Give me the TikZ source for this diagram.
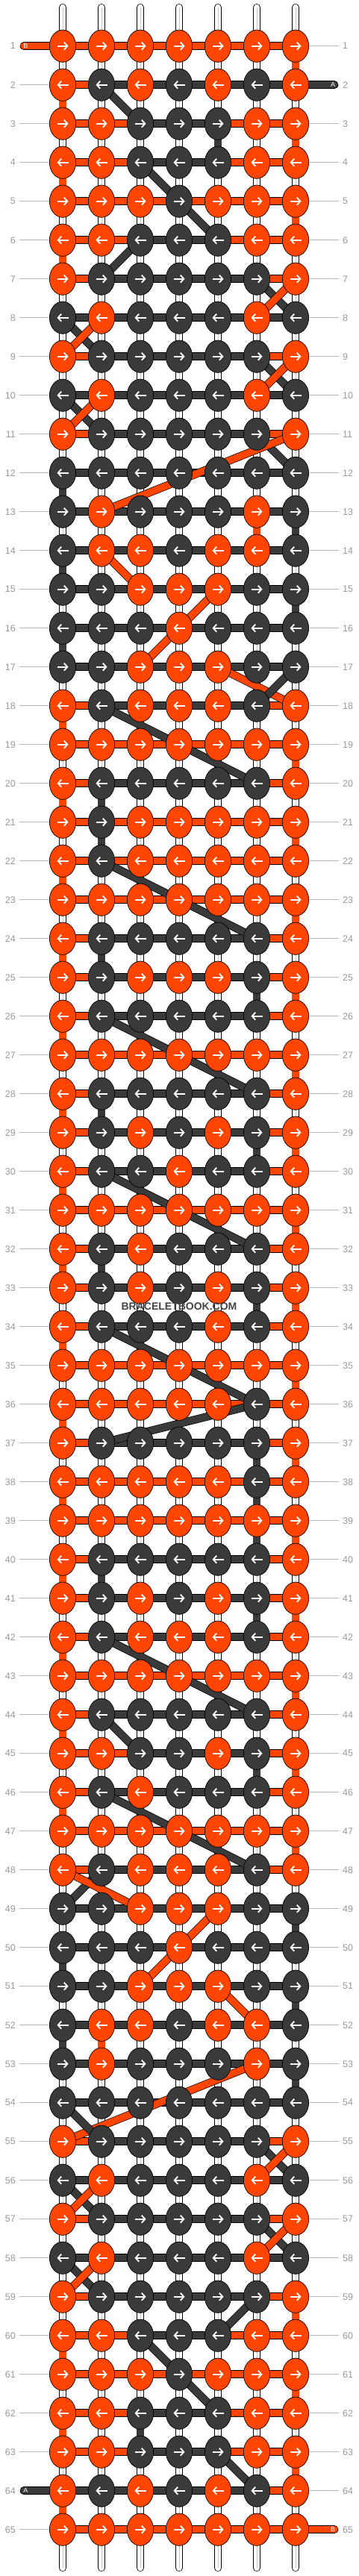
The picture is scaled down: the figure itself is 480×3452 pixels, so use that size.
\documentclass[tikz,border=0pt]{standalone}
\usepackage{fontspec}
\setmainfont{Liberation Sans}
\usetikzlibrary{shapes.geometric,arrows.meta}
\definecolor{co}{HTML}{FF4500}
\definecolor{cd}{HTML}{3A3A3A}
\definecolor{labgray}{HTML}{999999}
\definecolor{linegray}{HTML}{BBBBBB}
\definecolor{wmgray}{HTML}{444444}
\pgfdeclarelayer{bgfill}\pgfdeclarelayer{verts}\pgfdeclarelayer{bars}\pgfdeclarelayer{diags}\pgfdeclarelayer{toplayer}
\pgfsetlayers{bgfill,verts,bars,diags,main,toplayer}
\tikzset{
 knot/.style={ellipse, draw=black, line width=0.7, minimum width=35.3, minimum height=43.3, inner sep=0},
 arr/.style={draw=white, line width=1.8, -{Straight Barb[length=4.5pt,width=10pt]}},
 strand/.style={draw=black, line width=0.7, double=#1, double distance=9.3},
 wstrand/.style={draw=black, line width=0.7, double=white, double distance=8.6},
 wcore/.style={draw=black!22, line width=0.7},
 gline/.style={draw=linegray, line width=0.8},
 lab/.style={text=labgray, font=\fontsize{12.5}{14}\selectfont, inner sep=0},
 endlab/.style={text=white, font=\fontsize{9}{10}\selectfont, inner sep=0},
}
\newcommand\KnotAt[3]{%
 \node[knot, fill=c#3] (n#1-#2) at ({84+52*(#2-1)},{61.7+52*(#1-1)}) {};%
 \ifodd#1\relax
  \draw[arr] ([xshift=-7.5]n#1-#2.center) -- ([xshift=7.5]n#1-#2.center);%
 \else
  \draw[arr] ([xshift=7.5]n#1-#2.center) -- ([xshift=-7.5]n#1-#2.center);%
 \fi}
\def\KnotParse#1#2#3#4#5#6#7#8{\KnotAt{#1}{1}{#2}\KnotAt{#1}{2}{#3}\KnotAt{#1}{3}{#4}\KnotAt{#1}{4}{#5}\KnotAt{#1}{5}{#6}\KnotAt{#1}{6}{#7}\KnotAt{#1}{7}{#8}}
\newcommand\KnotRow[2]{\KnotParse{#1}#2}
\newcommand\BarSeg[4]{\draw[strand=c#4] (n#1-#2.center) -- (n#1-#3.center);}
\def\BarParse#1#2#3#4#5#6#7{\BarSeg{#1}{1}{2}{#2}\BarSeg{#1}{2}{3}{#3}\BarSeg{#1}{3}{4}{#4}\BarSeg{#1}{4}{5}{#5}\BarSeg{#1}{5}{6}{#6}\BarSeg{#1}{6}{7}{#7}}
\newcommand\BarRow[2]{\BarParse{#1}#2}
\newcommand\VertSeg[3]{\pgfmathtruncatemacro\nxr{#1+1}\draw[strand=c#3] (n#1-#2.center) -- (n\nxr-#2.center);}
\newcommand\DiagSeg[5]{\draw[strand=c#5] (n#1-#2.center) -- (n#3-#4.center);}
\begin{document}
\begin{tikzpicture}[x=1pt,y=-1pt]
\begin{pgfonlayer}{bgfill}
\fill[white] (0,0) rectangle (480,3452);
\end{pgfonlayer}
\useasboundingbox (0,0) rectangle (480,3452);
% knots
\KnotRow{1}{ooooooo}
\KnotRow{2}{odododo}
\KnotRow{3}{oodddoo}
\KnotRow{4}{oodddoo}
\KnotRow{5}{ooodooo}
\KnotRow{6}{oodddoo}
\KnotRow{7}{odddddo}
\KnotRow{8}{dodddod}
\KnotRow{9}{odddddo}
\KnotRow{10}{dodddod}
\KnotRow{11}{odddddo}
\KnotRow{12}{ddddddd}
\KnotRow{13}{dodddod}
\KnotRow{14}{doodood}
\KnotRow{15}{ddooodd}
\KnotRow{16}{dddoddd}
\KnotRow{17}{ddooodd}
\KnotRow{18}{odooodo}
\KnotRow{19}{ooooooo}
\KnotRow{20}{odddddo}
\KnotRow{21}{odooooo}
\KnotRow{22}{odooooo}
\KnotRow{23}{ooooooo}
\KnotRow{24}{odddddo}
\KnotRow{25}{odooodo}
\KnotRow{26}{odddddo}
\KnotRow{27}{ooooooo}
\KnotRow{28}{odddddo}
\KnotRow{29}{odododo}
\KnotRow{30}{oddoddo}
\KnotRow{31}{ooooooo}
\KnotRow{32}{ododddo}
\KnotRow{33}{odododo}
\KnotRow{34}{odddodo}
\KnotRow{35}{ooooooo}
\KnotRow{36}{ooooodo}
\KnotRow{37}{odddddo}
\KnotRow{38}{ooooodo}
\KnotRow{39}{ooooooo}
\KnotRow{40}{odddddo}
\KnotRow{41}{odododo}
\KnotRow{42}{odooodo}
\KnotRow{43}{ooooooo}
\KnotRow{44}{odddddo}
\KnotRow{45}{ooddodo}
\KnotRow{46}{ododddo}
\KnotRow{47}{ooooooo}
\KnotRow{48}{odooodo}
\KnotRow{49}{ddooodd}
\KnotRow{50}{dddoddd}
\KnotRow{51}{ddooodd}
\KnotRow{52}{doodood}
\KnotRow{53}{dodddod}
\KnotRow{54}{ddddddd}
\KnotRow{55}{odddddo}
\KnotRow{56}{dodddod}
\KnotRow{57}{odddddo}
\KnotRow{58}{dodddod}
\KnotRow{59}{odddddo}
\KnotRow{60}{oodddoo}
\KnotRow{61}{ooodooo}
\KnotRow{62}{oodddoo}
\KnotRow{63}{oodddoo}
\KnotRow{64}{odododo}
\KnotRow{65}{ooooooo}
% vertical strands
\begin{pgfonlayer}{verts}
\foreach \r in {1,...,64}{\pgfmathtruncatemacro\nxr{\r+1}\foreach \c in {1,...,7}{\draw[wstrand] (n\r-\c.center) -- (n\nxr-\c.center); \draw[wcore] (n\r-\c.center) -- (n\nxr-\c.center);}}
\foreach \c in {1,...,7}{
 \coordinate (top\c) at ({84+52*(\c-1)},10);
 \coordinate (bot\c) at ({84+52*(\c-1)},3441);
 \draw[wstrand,line cap=round] (top\c) -- (n1-\c.center);
 \draw[wcore] (top\c) -- (n1-\c.center);
 \draw[wstrand,line cap=round] (n65-\c.center) -- (bot\c);
 \draw[wcore] (n65-\c.center) -- (bot\c);
}
\VertSeg{1}{7}{o}
\VertSeg{2}{1}{o}
\VertSeg{3}{5}{d}\VertSeg{3}{7}{o}
\VertSeg{4}{1}{o}
\VertSeg{5}{7}{o}
\VertSeg{6}{1}{o}
\VertSeg{12}{1}{d}
\VertSeg{13}{6}{o}\VertSeg{13}{7}{d}
\VertSeg{14}{1}{d}
\VertSeg{15}{7}{d}
\VertSeg{16}{1}{d}
\VertSeg{18}{1}{o}
\VertSeg{19}{7}{o}
\VertSeg{20}{1}{o}\VertSeg{20}{2}{d}
\VertSeg{21}{2}{d}\VertSeg{21}{7}{o}
\VertSeg{22}{1}{o}
\VertSeg{23}{7}{o}
\VertSeg{24}{1}{o}\VertSeg{24}{2}{d}
\VertSeg{25}{6}{d}\VertSeg{25}{7}{o}
\VertSeg{26}{1}{o}
\VertSeg{27}{7}{o}
\VertSeg{28}{1}{o}\VertSeg{28}{2}{d}
\VertSeg{29}{6}{d}\VertSeg{29}{7}{o}
\VertSeg{30}{1}{o}
\VertSeg{31}{7}{o}
\VertSeg{32}{1}{o}\VertSeg{32}{2}{d}
\VertSeg{33}{6}{d}\VertSeg{33}{7}{o}
\VertSeg{34}{1}{o}
\VertSeg{35}{7}{o}
\VertSeg{36}{1}{o}
\VertSeg{37}{6}{d}\VertSeg{37}{7}{o}
\VertSeg{38}{1}{o}\VertSeg{38}{6}{d}
\VertSeg{39}{6}{d}\VertSeg{39}{7}{o}
\VertSeg{40}{1}{o}\VertSeg{40}{2}{d}
\VertSeg{41}{6}{d}\VertSeg{41}{7}{o}
\VertSeg{42}{1}{o}
\VertSeg{43}{7}{o}
\VertSeg{44}{1}{o}
\VertSeg{45}{6}{d}\VertSeg{45}{7}{o}
\VertSeg{46}{1}{o}
\VertSeg{47}{7}{o}
\VertSeg{49}{7}{d}
\VertSeg{50}{1}{d}
\VertSeg{51}{7}{d}
\VertSeg{52}{1}{d}\VertSeg{52}{2}{o}
\VertSeg{53}{7}{d}
\VertSeg{59}{7}{o}
\VertSeg{60}{1}{o}
\VertSeg{61}{7}{o}
\VertSeg{62}{1}{o}\VertSeg{62}{3}{d}
\VertSeg{63}{7}{o}
\VertSeg{64}{1}{o}
% row labels and guide lines
\foreach \r in {1,...,65}{
 \pgfmathsetmacro\yy{61.7+52*(\r-1)}
 \node[lab,anchor=east] (ll\r) at (21,\yy) {\r};
 \node[lab,anchor=west] (rl\r) at (459,\yy) {\r};
}
\foreach \r in {2,...,63}{\draw[gline] ([xshift=5]ll\r.east) -- (n\r-1.center);}
\draw[gline] ([xshift=5]ll65.east) -- (n65-1.center);
\draw[gline] (n1-7.center) -- ([xshift=-5]rl1.west);
\foreach \r in {3,...,64}{\draw[gline] (n\r-7.center) -- ([xshift=-5]rl\r.west);}
\end{pgfonlayer}
% horizontal bars
\begin{pgfonlayer}{bars}
\BarRow{1}{oooooo}
\BarRow{2}{oddddd}
\BarRow{3}{ooddoo}
\BarRow{4}{ooddoo}
\BarRow{5}{oooooo}
\BarRow{6}{ooddoo}
\BarRow{7}{oddddo}
\BarRow{8}{dddddd}
\BarRow{9}{oddddo}
\BarRow{10}{dddddd}
\BarRow{11}{oddddo}
\BarRow{12}{dddddd}
\BarRow{13}{dddddd}
\BarRow{14}{dddddd}
\BarRow{15}{dddddd}
\BarRow{16}{dddddd}
\BarRow{17}{dddddd}
\BarRow{18}{oddddo}
\BarRow{19}{oooooo}
\BarRow{20}{oddddo}
\BarRow{21}{oooooo}
\BarRow{22}{oooooo}
\BarRow{23}{oooooo}
\BarRow{24}{oddddo}
\BarRow{25}{oddddo}
\BarRow{26}{oddddo}
\BarRow{27}{oooooo}
\BarRow{28}{oddddo}
\BarRow{29}{oddddo}
\BarRow{30}{oddddo}
\BarRow{31}{oooooo}
\BarRow{32}{oddddo}
\BarRow{33}{oddddo}
\BarRow{34}{oddddo}
\BarRow{35}{oooooo}
\BarRow{36}{oooooo}
\BarRow{37}{oddddo}
\BarRow{38}{oooooo}
\BarRow{39}{oooooo}
\BarRow{40}{oddddo}
\BarRow{41}{oddddo}
\BarRow{42}{oddddo}
\BarRow{43}{oooooo}
\BarRow{44}{oddddo}
\BarRow{45}{oodddo}
\BarRow{46}{oddddo}
\BarRow{47}{oooooo}
\BarRow{48}{oddddo}
\BarRow{49}{dddddd}
\BarRow{50}{dddddd}
\BarRow{51}{dddddd}
\BarRow{52}{dddddd}
\BarRow{53}{dddddd}
\BarRow{54}{dddddd}
\BarRow{55}{oddddo}
\BarRow{56}{dddddd}
\BarRow{57}{oddddo}
\BarRow{58}{dddddd}
\BarRow{59}{oddddo}
\BarRow{60}{ooddoo}
\BarRow{61}{oooooo}
\BarRow{62}{ooddoo}
\BarRow{63}{ooddoo}
\BarRow{64}{dddddo}
\BarRow{65}{oooooo}
% loose ends
\coordinate (endB1) at (32,61.7);
\coordinate (endA2) at (448,113.7);
\coordinate (endA64) at (32,3337.7);
\coordinate (endB65) at (448,3389.7);
\draw[strand=co,line cap=round] (endB1) -- (n1-1.center);
\draw[strand=cd,line cap=round] (n2-7.center) -- (endA2);
\draw[strand=cd,line cap=round] (endA64) -- (n64-1.center);
\draw[strand=co,line cap=round] (n65-7.center) -- (endB65);
\end{pgfonlayer}
% diagonals
\begin{pgfonlayer}{diags}
\DiagSeg{2}{2}{3}{3}{d}
\DiagSeg{4}{3}{5}{4}{d}
\DiagSeg{5}{4}{6}{5}{d}
\DiagSeg{6}{3}{7}{2}{d}
\DiagSeg{7}{6}{8}{7}{d}
\DiagSeg{7}{7}{8}{6}{o}
\DiagSeg{8}{1}{9}{2}{d}
\DiagSeg{8}{2}{9}{1}{o}
\DiagSeg{9}{6}{10}{7}{d}
\DiagSeg{9}{7}{10}{6}{o}
\DiagSeg{10}{1}{11}{2}{d}
\DiagSeg{10}{2}{11}{1}{o}
\DiagSeg{11}{6}{12}{7}{d}
\DiagSeg{11}{7}{13}{2}{o}
\DiagSeg{14}{2}{15}{3}{o}
\DiagSeg{15}{5}{16}{4}{o}
\DiagSeg{16}{4}{17}{3}{o}
\DiagSeg{17}{5}{18}{7}{o}
\DiagSeg{17}{7}{18}{6}{d}
\DiagSeg{18}{2}{20}{6}{d}
\DiagSeg{22}{2}{24}{6}{d}
\DiagSeg{26}{2}{28}{6}{d}
\DiagSeg{30}{2}{32}{6}{d}
\DiagSeg{34}{2}{36}{6}{d}
\DiagSeg{36}{6}{37}{2}{d}
\DiagSeg{42}{2}{44}{6}{d}
\DiagSeg{44}{2}{45}{3}{d}
\DiagSeg{46}{2}{48}{6}{d}
\DiagSeg{48}{2}{49}{1}{d}
\DiagSeg{48}{1}{49}{3}{o}
\DiagSeg{49}{5}{50}{4}{o}
\DiagSeg{50}{4}{51}{3}{o}
\DiagSeg{51}{5}{52}{6}{o}
\DiagSeg{53}{6}{55}{1}{o}
\DiagSeg{54}{1}{55}{2}{d}
\DiagSeg{55}{6}{56}{7}{d}
\DiagSeg{55}{7}{56}{6}{o}
\DiagSeg{56}{1}{57}{2}{d}
\DiagSeg{56}{2}{57}{1}{o}
\DiagSeg{57}{6}{58}{7}{d}
\DiagSeg{57}{7}{58}{6}{o}
\DiagSeg{58}{1}{59}{2}{d}
\DiagSeg{58}{2}{59}{1}{o}
\DiagSeg{59}{6}{60}{5}{d}
\DiagSeg{60}{3}{61}{4}{d}
\DiagSeg{61}{4}{62}{5}{d}
\DiagSeg{63}{5}{64}{6}{d}
\end{pgfonlayer}
% labels on top
\begin{pgfonlayer}{toplayer}
\node[endlab] (labB1) at (34.5,61.7) {B};
\node[endlab] (labA2) at (446,113.7) {A};
\node[endlab] (labA64) at (34.5,3337.7) {A};
\node[endlab] (labB65) at (446,3389.7) {B};
\node[text=wmgray, font=\bfseries\fontsize{14}{16}\selectfont, inner sep=0] (wm) at (240,1751) {BRACELETBOOK.COM};
\end{pgfonlayer}
\end{tikzpicture}
\end{document}
